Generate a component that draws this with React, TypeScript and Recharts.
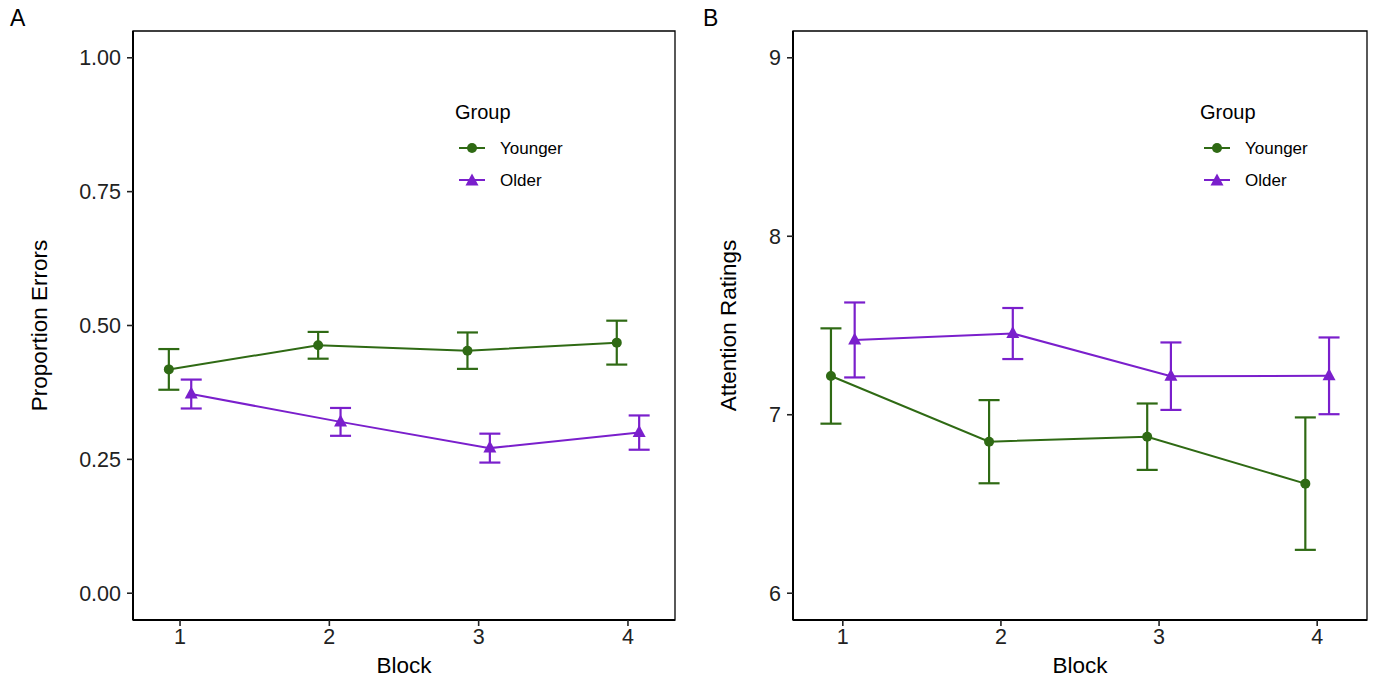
import React from 'react';
import { LineChart, Line, XAxis, YAxis, ErrorBar, ReferenceArea, Legend } from 'recharts';

// ---------- data ----------
const blocks = [1, 2, 3, 4];
const xTicks = [1, 2, 3, 4];
const groupNames = ['Younger', 'Older'];
const dodgeShift = [-0.075, 0.075];

const errorsYoungerMean = [0.418, 0.463, 0.453, 0.468];
const errorsYoungerSE = [0.038, 0.025, 0.034, 0.041];
const errorsOlderMean = [0.372, 0.320, 0.271, 0.300];
const errorsOlderSE = [0.027, 0.026, 0.027, 0.032];
const errorsTicks = [0, 0.25, 0.5, 0.75, 1];

const attnYoungerMean = [7.217, 6.849, 6.877, 6.614];
const attnYoungerSE = [0.267, 0.233, 0.186, 0.371];
const attnOlderMean = [7.419, 7.455, 7.216, 7.218];
const attnOlderSE = [0.210, 0.143, 0.189, 0.215];
const attnTicks = [6, 7, 8, 9];

// ---------- style ----------
const FONT = '"Liberation Sans", Arial, Helvetica, sans-serif';
const GREEN = '#2f6a14';
const PURPLE = '#7a1fcc';
const X_DOMAIN: [number, number] = [0.685, 4.315];
const TICK_FONT = 21.5;
const TITLE_FONT = 22.5;

const rows = (means: number[], se: number[], shift: number) =>
  blocks.map((b, i) => ({ x: b + shift, y: means[i], err: se[i] }));

const circleDot = (color: string) => (p: any) => {
  if (p.cx == null || p.cy == null) return <g key={`c-${p.index}`} />;
  return <circle key={`c-${p.index}`} cx={p.cx} cy={p.cy} r={5} fill={color} stroke="none" />;
};

const triPoints = (cx: number, cy: number) =>
  `${cx},${cy - 7.5} ${cx - 6.5},${cy + 4.5} ${cx + 6.5},${cy + 4.5}`;

const triDot = (color: string) => (p: any) => {
  if (p.cx == null || p.cy == null) return <g key={`t-${p.index}`} />;
  return <polygon key={`t-${p.index}`} points={triPoints(p.cx, p.cy)} fill={color} stroke="none" />;
};

const LegendBox = () => (
  <svg width={140} height={100} style={{ display: 'block', overflow: 'visible' }}>
    <text x={3} y={24} fontSize={20} fontFamily={FONT} fill="#000">Group</text>
    <line x1={7} x2={33} y1={53} y2={53} stroke={GREEN} strokeWidth={2} />
    <circle cx={20} cy={53} r={5} fill={GREEN} />
    <text x={48} y={59} fontSize={17} fontFamily={FONT} fill="#000">{groupNames[0]}</text>
    <line x1={7} x2={33} y1={85} y2={85} stroke={PURPLE} strokeWidth={2} />
    <polygon points={triPoints(20, 86)} fill={PURPLE} />
    <text x={48} y={91} fontSize={17} fontFamily={FONT} fill="#000">{groupNames[1]}</text>
  </svg>
);

type PanelProps = {
  left: number;
  width: number;
  rightMargin: number;
  yDomain: [number, number];
  yTicks: number[];
  yFmt: (v: number) => string;
  yLabel: string;
  yLabelX: number;
  legendLeft: number;
  youngMean: number[];
  youngSE: number[];
  oldMean: number[];
  oldSE: number[];
};

const Panel = (props: PanelProps) => {
  const young = rows(props.youngMean, props.youngSE, dodgeShift[0]);
  const old = rows(props.oldMean, props.oldSE, dodgeShift[1]);
  return (
    <div style={{ position: 'absolute', left: props.left, top: 0 }}>
      <LineChart
        width={props.width}
        height={680}
        margin={{ top: 31, right: props.rightMargin, left: 0, bottom: 0 }}
      >
        <XAxis
          dataKey="x"
          type="number"
          domain={X_DOMAIN}
          ticks={xTicks}
          allowDataOverflow
          height={60}
          tickSize={6}
          tickMargin={3}
          tick={{ fontSize: TICK_FONT, fill: '#222', fontFamily: FONT }}
          axisLine={{ stroke: '#000', strokeWidth: 2 }}
          tickLine={{ stroke: '#222', strokeWidth: 1.6 }}
          label={(lp: any) => {
            const vb = lp.viewBox || {};
            return (
              <text
                x={(vb.x ?? 0) + (vb.width ?? 0) / 2}
                y={673}
                textAnchor="middle"
                fontSize={TITLE_FONT}
                fontFamily={FONT}
                fill="#000"
              >
                Block
              </text>
            );
          }}
        />
        <YAxis
          type="number"
          domain={props.yDomain}
          ticks={props.yTicks}
          allowDataOverflow
          width={133}
          tickSize={6}
          tickMargin={6}
          tickFormatter={props.yFmt}
          tick={{ fontSize: TICK_FONT, fill: '#222', fontFamily: FONT }}
          axisLine={{ stroke: '#000', strokeWidth: 2 }}
          tickLine={{ stroke: '#222', strokeWidth: 1.6 }}
          label={(lp: any) => {
            const vb = lp.viewBox || {};
            const cy = (vb.y ?? 0) + (vb.height ?? 0) / 2;
            return (
              <text
                x={props.yLabelX}
                y={cy}
                transform={`rotate(-90, ${props.yLabelX}, ${cy})`}
                textAnchor="middle"
                dominantBaseline="central"
                fontSize={TITLE_FONT}
                fontFamily={FONT}
                fill="#000"
              >
                {props.yLabel}
              </text>
            );
          }}
        />
        <ReferenceArea
          x1={X_DOMAIN[0]}
          x2={X_DOMAIN[1]}
          y1={props.yDomain[0]}
          y2={props.yDomain[1]}
          fill="none"
          fillOpacity={0}
          stroke="#000"
          strokeWidth={1.3}
          ifOverflow="visible"
        />
        <Legend
          layout="vertical"
          align="center"
          verticalAlign="middle"
          wrapperStyle={{ position: 'absolute', left: props.legendLeft, top: 95, width: 140, height: 100 }}
          content={() => <LegendBox />}
        />
        <Line
          data={young}
          dataKey="y"
          name={groupNames[0]}
          stroke={GREEN}
          strokeWidth={2}
          dot={circleDot(GREEN)}
          activeDot={false}
          isAnimationActive={false}
        >
          <ErrorBar dataKey="err" direction="y" width={10.5} stroke={GREEN} strokeWidth={2.2} isAnimationActive={false} />
        </Line>
        <Line
          data={old}
          dataKey="y"
          name={groupNames[1]}
          stroke={PURPLE}
          strokeWidth={2}
          dot={triDot(PURPLE)}
          activeDot={false}
          isAnimationActive={false}
        >
          <ErrorBar dataKey="err" direction="y" width={10.5} stroke={PURPLE} strokeWidth={2.2} isAnimationActive={false} />
        </Line>
      </LineChart>
    </div>
  );
};

export default function App() {
  return (
    <div
      style={{
        position: 'absolute',
        left: 0,
        top: 0,
        width: 1379,
        height: 680,
        background: '#fff',
        fontFamily: FONT,
        overflow: 'hidden',
      }}
    >
      <div style={{ position: 'absolute', left: 10, top: 5, fontSize: 23, fontFamily: FONT, color: '#000' }}>A</div>
      <div style={{ position: 'absolute', left: 703, top: 5, fontSize: 23, fontFamily: FONT, color: '#000' }}>B</div>
      <Panel
        left={0}
        width={690}
        rightMargin={15}
        yDomain={[-0.05, 1.05]}
        yTicks={errorsTicks}
        yFmt={(v: number) => v.toFixed(2)}
        yLabel="Proportion Errors"
        yLabelX={39}
        legendLeft={452}
        youngMean={errorsYoungerMean}
        youngSE={errorsYoungerSE}
        oldMean={errorsOlderMean}
        oldSE={errorsOlderSE}
      />
      <Panel
        left={660}
        width={719}
        rightMargin={12}
        yDomain={[5.85, 9.15]}
        yTicks={attnTicks}
        yFmt={(v: number) => String(v)}
        yLabel="Attention Ratings"
        yLabelX={68}
        legendLeft={537}
        youngMean={attnYoungerMean}
        youngSE={attnYoungerSE}
        oldMean={attnOlderMean}
        oldSE={attnOlderSE}
      />
    </div>
  );
}
